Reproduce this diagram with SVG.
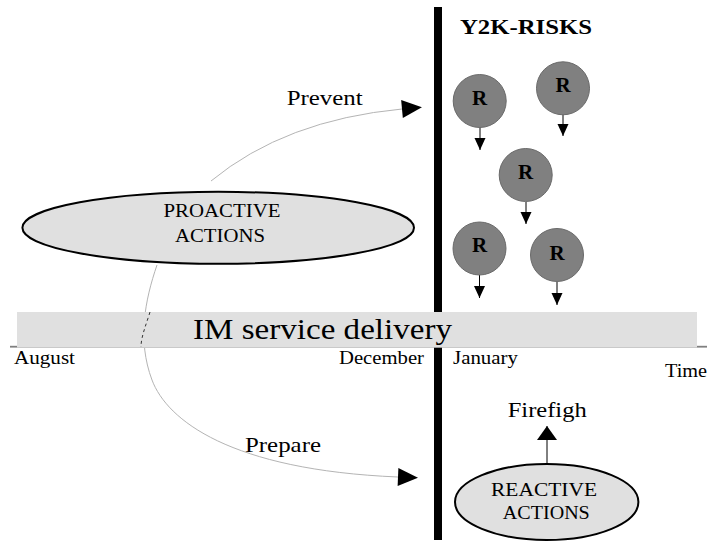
<svg xmlns="http://www.w3.org/2000/svg" width="707" height="542" viewBox="0 0 707 542" font-family="Liberation Serif, Times New Roman, serif">
<style>
.t{fill:#000}
.b{font-weight:bold}
.risk{fill:#808080;stroke:#6a6a6a;stroke-width:1}
.node{fill:#e0e0e0;stroke:#000;stroke-width:2}
.curve{fill:none;stroke:#b4b4b4;stroke-width:1}
.small{stroke:#000;stroke-width:1}
</style>
<defs>
<marker id="big" markerUnits="userSpaceOnUse" markerWidth="22" markerHeight="20" refX="0" refY="9" orient="auto" overflow="visible">
<path d="M0,0 L20,9 L0,18 z" fill="#000"/>
</marker>
<marker id="mid" markerUnits="userSpaceOnUse" markerWidth="16" markerHeight="22" refX="14" refY="10" orient="auto" overflow="visible">
<path d="M0,0 L14,10 L0,20 z" fill="#000"/>
</marker>
<marker id="sm" markerUnits="userSpaceOnUse" markerWidth="13" markerHeight="12" refX="12" refY="5.5" orient="auto" overflow="visible">
<path d="M0,0 L12,5.5 L0,11 z" fill="#000"/>
</marker>
</defs>
<rect width="707" height="542" fill="#fff"/>

<g id="timeline">
<rect x="434" y="7" width="8" height="533" fill="#000"/>
<rect x="10" y="345.8" width="697" height="1.8" fill="#808080"/>
</g>

<g id="connectors">
<path class="curve" d="M211,181 Q285,120 402,109" marker-end="url(#big)"/>
<path class="curve" d="M157,265 C145,300 137,340 152,380 C167,420 230,470 398,477" marker-end="url(#big)"/>
<line class="small" x1="547" y1="465" x2="547" y2="426" marker-end="url(#mid)"/>
<line class="small" x1="480" y1="127" x2="480" y2="150" marker-end="url(#sm)"/>
<line class="small" x1="563" y1="114" x2="563" y2="136" marker-end="url(#sm)"/>
<line class="small" x1="526" y1="202" x2="526" y2="224" marker-end="url(#sm)"/>
<line class="small" x1="479.5" y1="275" x2="479.5" y2="298" marker-end="url(#sm)"/>
<line class="small" x1="557" y1="282" x2="557" y2="305" marker-end="url(#sm)"/>
</g>

<g id="band">
<rect x="17" y="312" width="680" height="35.5" fill="#e0e0e0"/>
<text class="t" x="193" y="338.5" font-size="29" textLength="259" lengthAdjust="spacingAndGlyphs">IM service delivery</text>
</g>
<path class="curve" d="M150,312 C146,325 141,337 141,347" stroke-dasharray="3 3" style="stroke:#333"/>

<g id="axis-labels">
<text class="t" x="14" y="364" font-size="19" textLength="61" lengthAdjust="spacingAndGlyphs">August</text>
<text class="t" x="339" y="364" font-size="19" textLength="85" lengthAdjust="spacingAndGlyphs">December</text>
<text class="t" x="453" y="364" font-size="19" textLength="65" lengthAdjust="spacingAndGlyphs">January</text>
<text class="t" x="665" y="377" font-size="19" textLength="42" lengthAdjust="spacingAndGlyphs">Time</text>
</g>

<g id="title">
<text class="t b" x="460" y="34.3" font-size="21" textLength="132" lengthAdjust="spacingAndGlyphs">Y2K-RISKS</text>
</g>

<g id="proactive">
<ellipse class="node" cx="218.2" cy="227.8" rx="195.8" ry="36"/>
<text class="t" x="222" y="217.3" font-size="18" text-anchor="middle" textLength="117" lengthAdjust="spacingAndGlyphs">PROACTIVE</text>
<text class="t" x="220" y="242" font-size="18" text-anchor="middle" textLength="90" lengthAdjust="spacingAndGlyphs">ACTIONS</text>
</g>

<g id="reactive">
<ellipse class="node" cx="546.7" cy="502" rx="91.7" ry="38"/>
<text class="t" x="544" y="495.7" font-size="19" text-anchor="middle" textLength="106" lengthAdjust="spacingAndGlyphs">REACTIVE</text>
<text class="t" x="546.3" y="519.3" font-size="19" text-anchor="middle" textLength="87" lengthAdjust="spacingAndGlyphs">ACTIONS</text>
</g>

<g id="risk1"><circle class="risk" cx="479.7" cy="101" r="26.5"/><text class="t b" x="479.7" y="104.5" font-size="21" text-anchor="middle">R</text></g>
<g id="risk2"><circle class="risk" cx="563" cy="88.3" r="26.5"/><text class="t b" x="563" y="92" font-size="21" text-anchor="middle">R</text></g>
<g id="risk3"><circle class="risk" cx="525.7" cy="175" r="26.5"/><text class="t b" x="525.7" y="178.5" font-size="21" text-anchor="middle">R</text></g>
<g id="risk4"><circle class="risk" cx="479.5" cy="248.5" r="26.5"/><text class="t b" x="479.5" y="252" font-size="21" text-anchor="middle">R</text></g>
<g id="risk5"><circle class="risk" cx="557" cy="255" r="26.5"/><text class="t b" x="557" y="260" font-size="21" text-anchor="middle">R</text></g>

<g id="labels">
<text class="t" x="286.7" y="105" font-size="21" textLength="76" lengthAdjust="spacingAndGlyphs">Prevent</text>
<text class="t" x="245" y="452" font-size="21" textLength="76" lengthAdjust="spacingAndGlyphs">Prepare</text>
<text class="t" x="507.7" y="417.3" font-size="22" textLength="79" lengthAdjust="spacingAndGlyphs">Firefigh</text>
</g>
</svg>
